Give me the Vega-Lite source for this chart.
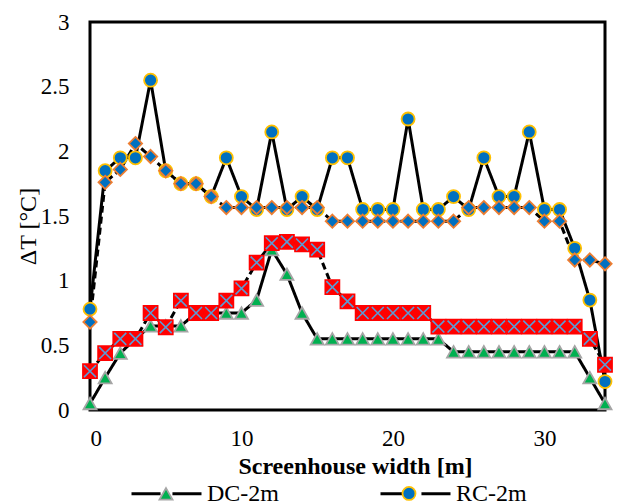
{
  "$schema": "https://vega.github.io/schema/vega-lite/v6.json",
  "width": 515,
  "height": 388,
  "autosize": {"type": "none"},
  "padding": {"left": 90, "top": 22, "right": 25, "bottom": 91},
  "background": "white",
  "config": {
    "view": {"stroke": "black", "strokeWidth": 3},
    "font": "Liberation Serif, Times New Roman, DejaVu Serif, serif",
    "axis": {"labelFont": "Liberation Serif, Times New Roman, DejaVu Serif, serif", "titleFont": "Liberation Serif, Times New Roman, DejaVu Serif, serif"},
    "legend": {"labelFont": "Liberation Serif, Times New Roman, DejaVu Serif, serif", "titleFont": "Liberation Serif, Times New Roman, DejaVu Serif, serif"}
  },
  "data": {
    "values": [
      {"x":0,"s":"DC-2m","y":0.05},{"x":1,"s":"DC-2m","y":0.25},{"x":2,"s":"DC-2m","y":0.44},{"x":3,"s":"DC-2m","y":0.55},{"x":4,"s":"DC-2m","y":0.65},{"x":5,"s":"DC-2m","y":0.65},{"x":6,"s":"DC-2m","y":0.65},{"x":7,"s":"DC-2m","y":0.75},{"x":8,"s":"DC-2m","y":0.75},{"x":9,"s":"DC-2m","y":0.75},{"x":10,"s":"DC-2m","y":0.75},{"x":11,"s":"DC-2m","y":0.85},{"x":12,"s":"DC-2m","y":1.24},{"x":13,"s":"DC-2m","y":1.05},{"x":14,"s":"DC-2m","y":0.75},{"x":15,"s":"DC-2m","y":0.55},{"x":16,"s":"DC-2m","y":0.55},{"x":17,"s":"DC-2m","y":0.55},{"x":18,"s":"DC-2m","y":0.55},{"x":19,"s":"DC-2m","y":0.55},{"x":20,"s":"DC-2m","y":0.55},{"x":21,"s":"DC-2m","y":0.55},{"x":22,"s":"DC-2m","y":0.55},{"x":23,"s":"DC-2m","y":0.55},{"x":24,"s":"DC-2m","y":0.45},{"x":25,"s":"DC-2m","y":0.45},{"x":26,"s":"DC-2m","y":0.45},{"x":27,"s":"DC-2m","y":0.45},{"x":28,"s":"DC-2m","y":0.45},{"x":29,"s":"DC-2m","y":0.45},{"x":30,"s":"DC-2m","y":0.45},{"x":31,"s":"DC-2m","y":0.45},{"x":32,"s":"DC-2m","y":0.45},{"x":33,"s":"DC-2m","y":0.25},{"x":34,"s":"DC-2m","y":0.05},
      {"x":0,"s":"RC-2m","y":0.78},{"x":1,"s":"RC-2m","y":1.85},{"x":2,"s":"RC-2m","y":1.95},{"x":3,"s":"RC-2m","y":1.95},{"x":4,"s":"RC-2m","y":2.55},{"x":5,"s":"RC-2m","y":1.85},{"x":6,"s":"RC-2m","y":1.75},{"x":7,"s":"RC-2m","y":1.75},{"x":8,"s":"RC-2m","y":1.65},{"x":9,"s":"RC-2m","y":1.95},{"x":10,"s":"RC-2m","y":1.65},{"x":11,"s":"RC-2m","y":1.55},{"x":12,"s":"RC-2m","y":2.15},{"x":13,"s":"RC-2m","y":1.55},{"x":14,"s":"RC-2m","y":1.65},{"x":15,"s":"RC-2m","y":1.55},{"x":16,"s":"RC-2m","y":1.95},{"x":17,"s":"RC-2m","y":1.95},{"x":18,"s":"RC-2m","y":1.55},{"x":19,"s":"RC-2m","y":1.55},{"x":20,"s":"RC-2m","y":1.55},{"x":21,"s":"RC-2m","y":2.25},{"x":22,"s":"RC-2m","y":1.55},{"x":23,"s":"RC-2m","y":1.55},{"x":24,"s":"RC-2m","y":1.65},{"x":25,"s":"RC-2m","y":1.55},{"x":26,"s":"RC-2m","y":1.95},{"x":27,"s":"RC-2m","y":1.65},{"x":28,"s":"RC-2m","y":1.65},{"x":29,"s":"RC-2m","y":2.15},{"x":30,"s":"RC-2m","y":1.55},{"x":31,"s":"RC-2m","y":1.55},{"x":32,"s":"RC-2m","y":1.25},{"x":33,"s":"RC-2m","y":0.85},{"x":34,"s":"RC-2m","y":0.22},
      {"x":0,"s":"DC-1m","y":0.30},{"x":1,"s":"DC-1m","y":0.44},{"x":2,"s":"DC-1m","y":0.55},{"x":3,"s":"DC-1m","y":0.55},{"x":4,"s":"DC-1m","y":0.75},{"x":5,"s":"DC-1m","y":0.64},{"x":6,"s":"DC-1m","y":0.845},{"x":7,"s":"DC-1m","y":0.75},{"x":8,"s":"DC-1m","y":0.75},{"x":9,"s":"DC-1m","y":0.845},{"x":10,"s":"DC-1m","y":0.94},{"x":11,"s":"DC-1m","y":1.14},{"x":12,"s":"DC-1m","y":1.29},{"x":13,"s":"DC-1m","y":1.30},{"x":14,"s":"DC-1m","y":1.28},{"x":15,"s":"DC-1m","y":1.24},{"x":16,"s":"DC-1m","y":0.95},{"x":17,"s":"DC-1m","y":0.84},{"x":18,"s":"DC-1m","y":0.75},{"x":19,"s":"DC-1m","y":0.75},{"x":20,"s":"DC-1m","y":0.75},{"x":21,"s":"DC-1m","y":0.75},{"x":22,"s":"DC-1m","y":0.75},{"x":23,"s":"DC-1m","y":0.645},{"x":24,"s":"DC-1m","y":0.645},{"x":25,"s":"DC-1m","y":0.645},{"x":26,"s":"DC-1m","y":0.645},{"x":27,"s":"DC-1m","y":0.645},{"x":28,"s":"DC-1m","y":0.645},{"x":29,"s":"DC-1m","y":0.645},{"x":30,"s":"DC-1m","y":0.645},{"x":31,"s":"DC-1m","y":0.645},{"x":32,"s":"DC-1m","y":0.645},{"x":33,"s":"DC-1m","y":0.55},{"x":34,"s":"DC-1m","y":0.35},
      {"x":0,"s":"RC-1m","y":0.68},{"x":1,"s":"RC-1m","y":1.76},{"x":2,"s":"RC-1m","y":1.86},{"x":3,"s":"RC-1m","y":2.06},{"x":4,"s":"RC-1m","y":1.96},{"x":5,"s":"RC-1m","y":1.85},{"x":6,"s":"RC-1m","y":1.75},{"x":7,"s":"RC-1m","y":1.75},{"x":8,"s":"RC-1m","y":1.65},{"x":9,"s":"RC-1m","y":1.565},{"x":10,"s":"RC-1m","y":1.565},{"x":11,"s":"RC-1m","y":1.565},{"x":12,"s":"RC-1m","y":1.565},{"x":13,"s":"RC-1m","y":1.565},{"x":14,"s":"RC-1m","y":1.565},{"x":15,"s":"RC-1m","y":1.565},{"x":16,"s":"RC-1m","y":1.46},{"x":17,"s":"RC-1m","y":1.46},{"x":18,"s":"RC-1m","y":1.46},{"x":19,"s":"RC-1m","y":1.46},{"x":20,"s":"RC-1m","y":1.46},{"x":21,"s":"RC-1m","y":1.46},{"x":22,"s":"RC-1m","y":1.46},{"x":23,"s":"RC-1m","y":1.46},{"x":24,"s":"RC-1m","y":1.46},{"x":25,"s":"RC-1m","y":1.565},{"x":26,"s":"RC-1m","y":1.565},{"x":27,"s":"RC-1m","y":1.565},{"x":28,"s":"RC-1m","y":1.565},{"x":29,"s":"RC-1m","y":1.565},{"x":30,"s":"RC-1m","y":1.46},{"x":31,"s":"RC-1m","y":1.46},{"x":32,"s":"RC-1m","y":1.16},{"x":33,"s":"RC-1m","y":1.16},{"x":34,"s":"RC-1m","y":1.13}
    ]
  },
  "encoding": {
    "x": {
      "field": "x", "type": "quantitative",
      "scale": {"domain": [0, 34], "nice": false, "zero": false},
      "axis": {
        "values": [0, 10, 20, 30], "ticks": false, "tickSize": 0, "domain": false, "grid": false,
        "labelFontSize": 23, "labelColor": "black", "labelBaseline": "alphabetic", "labelPadding": 35,
        "title": "Screenhouse width [m]", "titleFontSize": 24, "titleFontWeight": "bold", "titleColor": "black",
        "titleX": 265, "titleY": 63, "titleBaseline": "alphabetic", "titleAlign": "center"
      }
    },
    "y": {
      "field": "y", "type": "quantitative",
      "scale": {"domain": [0, 3], "nice": false},
      "axis": {
        "values": [0, 0.5, 1, 1.5, 2, 2.5, 3], "format": "~g", "ticks": false, "tickSize": 0, "domain": false, "grid": false,
        "labelFontSize": 23, "labelColor": "black", "labelPadding": 21, "labelBaseline": "middle",
        "title": "ΔT [°C]", "titleFontSize": 24, "titleFontWeight": "normal", "titleColor": "black",
        "titleAngle": 270, "titleX": -55, "titleY": 204, "titleBaseline": "alphabetic", "titleAlign": "center"
      }
    }
  },
  "layer": [
    {
      "mark": {"type": "line", "color": "black", "strokeWidth": 3},
      "encoding": {
        "detail": {"field": "s", "type": "nominal"},
        "strokeDash": {
          "field": "s", "type": "nominal",
          "scale": {"domain": ["DC-2m", "RC-2m", "RC-1m", "DC-1m"], "range": [[1, 0], [1, 0], [7, 4], [7, 4]]},
          "legend": {
            "orient": "none", "legendX": 40, "legendY": 435, "direction": "horizontal", "columns": 2,
            "values": ["DC-2m", "RC-2m"], "title": null, "padding": 0, "offset": 0,
            "symbolType": "M-1,0H-0.17M0.17,0H1", "symbolSize": 4900, "symbolStrokeWidth": 3,
            "symbolStrokeColor": "black", "symbolFillColor": "transparent",
            "labelFontSize": 24, "labelColor": "black", "labelOffset": 4,
            "columnPadding": 95, "labelLimit": 0
          }
        }
      }
    },
    {
      "mark": {"type": "point", "filled": true, "size": 4900, "strokeWidth": 1.8, "opacity": 1},
      "encoding": {
        "shape": {
          "field": "s", "type": "nominal",
          "scale": {"domain": ["DC-2m", "RC-2m", "DC-1m", "RC-1m"], "range": [
            "M0,-0.164L0.186,0.164L-0.186,0.164Z",
            "M0.186,0A0.186,0.186,0,1,1,-0.186,0A0.186,0.186,0,1,1,0.186,0Z",
            "M-0.2,-0.2H0.2V0.2H-0.2Z",
            "M0,-0.19L0.19,0L0,0.19L-0.19,0Z"
          ]},
          "legend": {
            "orient": "none", "legendX": 40, "legendY": 435, "direction": "horizontal", "columns": 2,
            "values": ["DC-2m", "RC-2m"], "title": null, "padding": 0, "offset": 0,
            "symbolSize": 4900, "symbolStrokeWidth": 1.8,
            "labelExpr": "''", "labelOffset": 4, "columnPadding": 167, "labelLimit": 0
          }
        },
        "fill": {
          "field": "s", "type": "nominal",
          "scale": {"domain": ["DC-2m", "RC-2m", "DC-1m", "RC-1m"], "range": ["#00b050", "#0070c0", "#ff0000", "#0070c0"]},
          "legend": {
            "orient": "none", "legendX": 40, "legendY": 435, "direction": "horizontal", "columns": 2,
            "values": ["DC-2m", "RC-2m"], "title": null, "padding": 0, "offset": 0,
            "symbolSize": 4900, "symbolStrokeWidth": 1.8,
            "labelExpr": "''", "labelOffset": 4, "columnPadding": 167, "labelLimit": 0
          }
        },
        "stroke": {
          "field": "s", "type": "nominal",
          "scale": {"domain": ["DC-2m", "RC-2m", "DC-1m", "RC-1m"], "range": ["#a5a5a5", "#ffc000", "#ff0000", "#ed7d31"]},
          "legend": {
            "orient": "none", "legendX": 40, "legendY": 435, "direction": "horizontal", "columns": 2,
            "values": ["DC-2m", "RC-2m"], "title": null, "padding": 0, "offset": 0,
            "symbolSize": 4900, "symbolStrokeWidth": 1.8,
            "labelExpr": "''", "labelOffset": 4, "columnPadding": 167, "labelLimit": 0
          }
        }
      }
    },
    {
      "transform": [{"filter": "datum.s === 'DC-1m'"}],
      "mark": {"type": "point", "shape": "M-0.17,-0.17L0.17,0.17M-0.17,0.17L0.17,-0.17", "size": 4900, "filled": false, "stroke": "#5b9bd5", "strokeWidth": 1.6, "opacity": 1}
    }
  ]
}
